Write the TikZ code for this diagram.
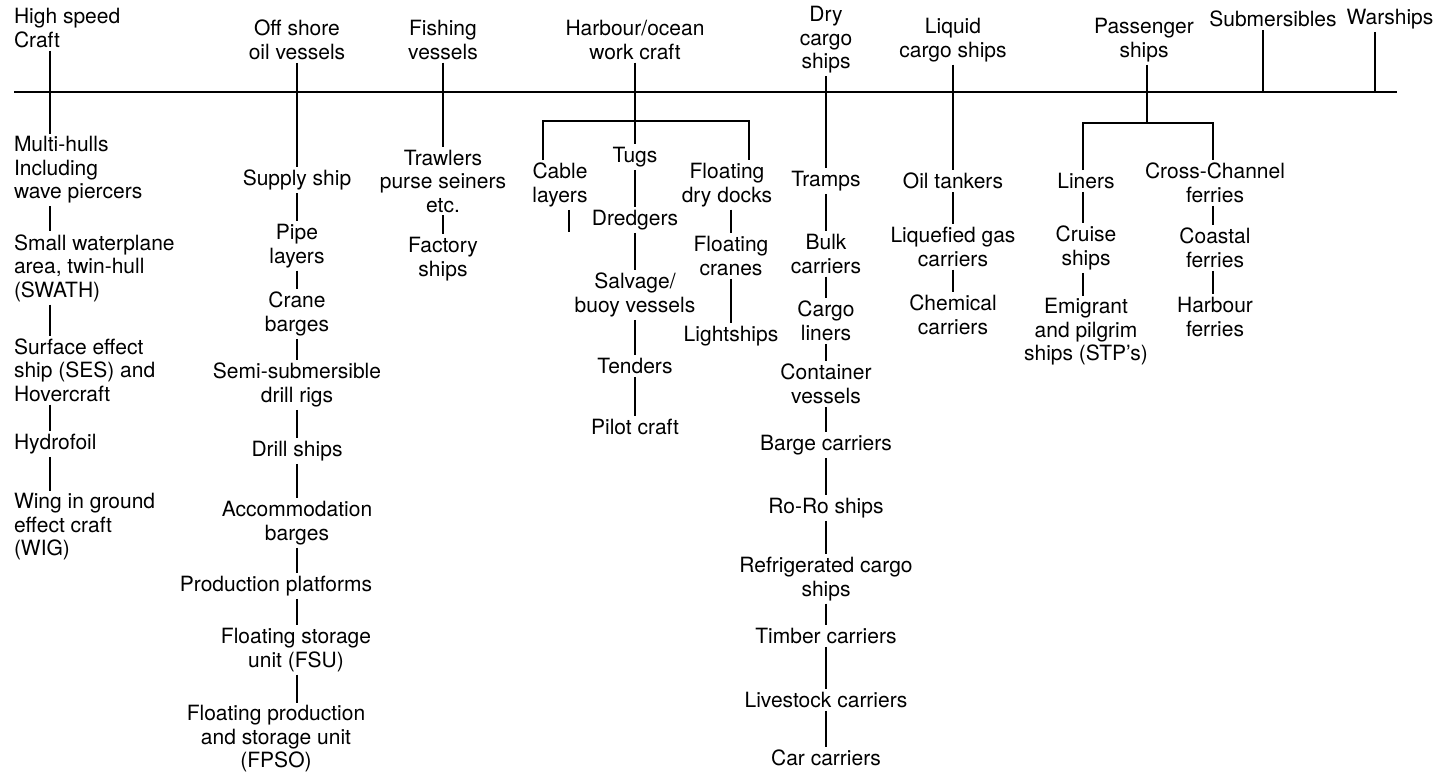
\documentclass[tikz,border=0pt]{standalone}
\usepackage{fontspec}
\setmainfont{TeX Gyre Heros}
\usepackage{tikz}

\begin{document}
\begin{tikzpicture}[x=0.5pt,y=-0.5pt,
    ship/.style={align=center, inner sep=0pt, outer sep=1.5pt,
        font=\fontsize{10.5pt}{11.75pt}\selectfont},
    leftship/.style={ship, align=left, anchor=west},
    link/.style={line width=0.65pt}]

\useasboundingbox (0,0) rectangle (1451,777);

% Hauptlinie
\coordinate (mainL) at (14,92);
\coordinate (mainR) at (1397,92);
\draw[link] (mainL) -- (mainR);

% High speed craft (links, linksbuendig)
\node[leftship] (hsc)   at (11,28)  {High speed\\Craft};
\node[leftship] (multi) at (11,170) {Multi-hulls\\Including\\wave piercers};
\node[leftship] (swath) at (11,268) {Small waterplane\\area, twin-hull\\(SWATH)};
\node[leftship] (ses)   at (11,370) {Surface effect\\ship (SES) and\\Hovercraft};
\node[leftship] (hydro) at (11,444) {Hydrofoil};
\node[leftship] (wig)   at (11,527) {Wing in ground\\effect craft\\(WIG)};
\coordinate (hsx) at (50,92);
\draw[link] (hsc.south -| hsx) -- (multi.north -| hsx);
\foreach \a/\b in {multi/swath, swath/ses, ses/hydro, hydro/wig}
    \draw[link] (\a.south -| hsx) -- (\b.north -| hsx);

% Off shore oil vessels
\node[ship] (off)    at (297,40)  {Off shore\\oil vessels};
\node[ship] (supply) at (297,180) {Supply ship};
\node[ship] (pipe)   at (297,246) {Pipe\\layers};
\node[ship] (crane)  at (297,314) {Crane\\barges};
\node[ship] (semi)   at (297,385) {Semi-submersible\\drill rigs};
\node[ship] (drill)  at (297,451) {Drill ships};
\node[ship] (accom)  at (297,523) {Accommodation\\barges};
\node[ship] (prod)   at (276,586) {Production platforms};
\node[ship] (fsu)    at (296,650) {Floating storage\\unit (FSU)};
\node[ship] (fpso)   at (276,739) {Floating production\\and storage unit\\(FPSO)};
\foreach \a/\b in {off/supply, supply/pipe, pipe/crane, crane/semi, semi/drill,
                   drill/accom, accom/prod, prod/fsu, fsu/fpso}
    \draw[link] (\a.south -| off) -- (\b.north -| off);

% Fishing vessels
\node[ship] (fish)    at (443,40)  {Fishing\\vessels};
\node[ship] (trawl)   at (443,181) {Trawlers\\purse seiners\\etc.};
\node[ship] (factory) at (443,259) {Factory\\ships};
\draw[link] (fish.south) -- (trawl.north);
\draw[link] (trawl.south) -- (factory.north);

% Harbour/ocean work craft
\node[ship] (hw)     at (635,40)  {Harbour/ocean\\work craft};
\node[ship] (tugs)   at (635,157) {Tugs};
\node[ship] (dredg)  at (635,220) {Dredgers};
\node[ship] (salv)   at (635,295) {Salvage/\\buoy vessels};
\node[ship] (tend)   at (635,366) {Tenders};
\node[ship] (pilot)  at (635,427) {Pilot craft};
\node[ship] (cable)  at (560,185) {Cable\\layers};
\node[ship] (fdd)    at (727,185) {Floating\\dry docks};
\node[ship] (fcr)    at (731,256) {Floating\\cranes};
\node[ship] (light)  at (731,336) {Lightships};
\coordinate (hwl) at (543,121);
\coordinate (hwr) at (749,121);
\coordinate (cableend) at (569,232);
\draw[link] (hw.south) -- (tugs.north);
\draw[link] (cable.north -| hwl) -- (hwl) -- (hwr) -- (fdd.north -| hwr);
\draw[link] (cable.south -| cableend) -- (cableend);
\foreach \a/\b in {tugs/dredg, dredg/salv, salv/tend, tend/pilot}
    \draw[link] (\a.south) -- (\b.north);
\draw[link] (fdd.south -| fcr) -- (fcr.north);
\draw[link] (fcr.south) -- (light.north);

% Dry cargo ships
\node[ship] (dry)    at (826,40)  {Dry\\cargo\\ships};
\node[ship] (tramps) at (826,181) {Tramps};
\node[ship] (bulk)   at (826,254) {Bulk\\carriers};
\node[ship] (cargol) at (826,321) {Cargo\\liners};
\node[ship] (cont)   at (826,384) {Container\\vessels};
\node[ship] (barge)  at (826,445) {Barge carriers};
\node[ship] (roro)   at (826,508) {Ro-Ro ships};
\node[ship] (refr)   at (826,579) {Refrigerated cargo\\ships};
\node[ship] (timber) at (826,636) {Timber carriers};
\node[ship] (live)   at (826,700) {Livestock carriers};
\node[ship] (car)    at (826,758) {Car carriers};
\foreach \a/\b in {dry/tramps, tramps/bulk, bulk/cargol, cargol/cont, cont/barge,
                   barge/roro, roro/refr, refr/timber, timber/live, live/car}
    \draw[link] (\a.south) -- (\b.north);

% Liquid cargo ships
\node[ship] (liq)  at (953,40)  {Liquid\\cargo ships};
\node[ship] (oil)  at (953,181) {Oil tankers};
\node[ship] (lgas) at (953,247) {Liquefied gas\\carriers};
\node[ship] (chem) at (953,315) {Chemical\\carriers};
\foreach \a/\b in {liq/oil, oil/lgas, lgas/chem}
    \draw[link] (\a.south) -- (\b.north);

% Passenger ships
\node[ship] (pass)   at (1144,40)  {Passenger\\ships};
\node[ship] (liners) at (1086,181) {Liners};
\node[ship] (cruise) at (1086,248) {Cruise\\ships};
\node[ship] (emig)   at (1086,332) {Emigrant\\and pilgrim\\ships (STP’s)};
\node[ship] (cross)  at (1215,183) {Cross-Channel\\ferries};
\node[ship] (coast)  at (1215,248) {Coastal\\ferries};
\node[ship] (harb)   at (1215,317) {Harbour\\ferries};
\coordinate (passj) at (1147,123);
\coordinate (passl) at (1083,123);
\coordinate (passr) at (1213,123);
\draw[link] (pass.south -| passj) -- (passj);
\draw[link] (liners.north -| passl) -- (passl) -- (passr) -- (cross.north -| passr);
\draw[link] (liners.south -| passl) -- (cruise.north -| passl);
\draw[link] (cruise.south -| passl) -- (emig.north -| passl);
\draw[link] (cross.south -| passr) -- (coast.north -| passr);
\draw[link] (coast.south -| passr) -- (harb.north -| passr);

% Submersibles, Warships
\node[ship] (subm) at (1273,19) {Submersibles};
\node[ship] (war)  at (1390,19) {Warships};
\coordinate (subx) at (1263,92);
\coordinate (warx) at (1375,92);
\draw[link] (subm.south -| subx) -- (subx);
\draw[link] (war.south -| warx) -- (warx);

\end{tikzpicture}
\end{document}
